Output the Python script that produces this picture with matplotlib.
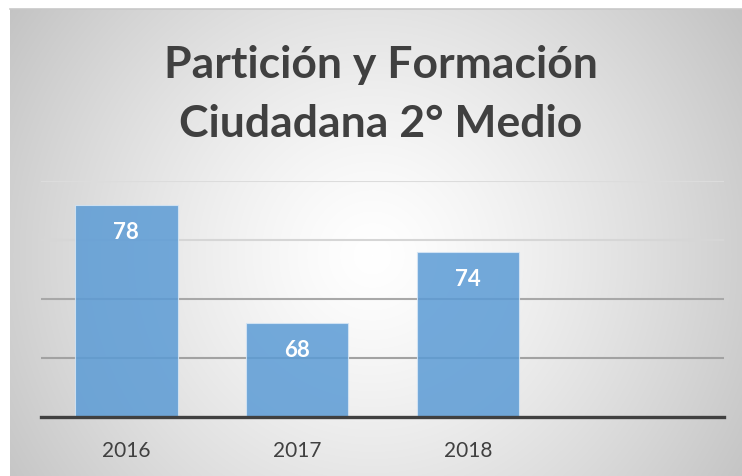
import numpy as np
import matplotlib
matplotlib.use("Agg")
import matplotlib.pyplot as plt

# ---- data ----
categories = ["2016", "2017", "2018"]
values = [78, 68, 74]
n_slots = 4  # chart reserves an empty fourth category slot
y_min, y_max = 60, 80
grid_levels = [65, 70, 75, 80]

W, H = 742, 476
fig = plt.figure(figsize=(W / 100, H / 100), dpi=100)
fig.patch.set_facecolor("white")

# ---- radial gradient background (chart area) ----
bg_left, bg_top = 10, 9
bg = fig.add_axes([bg_left / W, 0, 1 - bg_left / W, (H - bg_top) / H])
bg.set_axis_off()
gw, gh = W - bg_left, H - bg_top
xx, yy = np.meshgrid(np.arange(gw), np.arange(gh))
cx, cy = 372 - bg_left, 255 - bg_top
d = np.sqrt((xx - cx) ** 2 + (yy - cy) ** 2) / 440.0
shade = 1 - 0.235 * d ** 1.3
shade = np.clip(shade, 0, 1)
img = np.dstack([shade, shade, shade])
bg.imshow(img, aspect="auto", extent=[0, 1, 0, 1], origin="upper")
bg.set_xlim(0, 1)
bg.set_ylim(0, 1)
bg.plot([0, 1], [1, 1], color="#c8c8c8", lw=1.2, transform=bg.transAxes, clip_on=False)

# ---- plot area ----
ax_l, ax_r = 41, 724
ax_b, ax_t = 417, 181
ax = fig.add_axes([ax_l / W, (H - ax_b) / H, (ax_r - ax_l) / W, (ax_b - ax_t) / H])
ax.patch.set_alpha(0)

grid_colors = ["#a2a2a2", "#a8a8a8", "#d6d6d6", "#dcdcdc"]
for lvl, gc in zip(grid_levels, grid_colors):
    ax.axhline(lvl, color=gc, lw=1.5, zorder=1)

x = np.arange(len(categories))
bars = ax.bar(x, values, width=0.6, color="#5b9bd5", alpha=0.85,
              edgecolor="#d6e6f5", linewidth=0.8, zorder=2)

for xi, v in zip(x, values):
    ax.annotate(str(v), (xi, v), xytext=(0, -20), textcoords="offset points",
                ha="center", va="center", color="white", fontsize=16,
                fontweight="bold", family=["Lato", "DejaVu Sans"], zorder=4)

ax.set_xlim(-0.5, n_slots - 0.5)
ax.set_ylim(y_min, y_max)
ax.set_xticks(x)
ax.set_xticklabels(categories, fontsize=15, color="#404040",
                   family=["Lato", "DejaVu Sans"])
ax.set_yticks([])
ax.tick_params(axis="x", length=0, pad=17)
for s in ["top", "right", "left"]:
    ax.spines[s].set_visible(False)
ax.spines["bottom"].set_color("#404040")
ax.spines["bottom"].set_linewidth(2.4)
ax.spines["bottom"].set_zorder(5)

# ---- title ----
title_lines = ["Partición y Formación", "Ciudadana 2° Medio"]
title_baselines = [78, 137]
for line, yb in zip(title_lines, title_baselines):
    fig.text(381 / W, (H - yb) / H, line, ha="center", va="baseline",
             fontsize=32, fontweight="bold", color="#404040",
             family=["Lato", "DejaVu Sans"])

fig.savefig("out.png", dpi=100)
